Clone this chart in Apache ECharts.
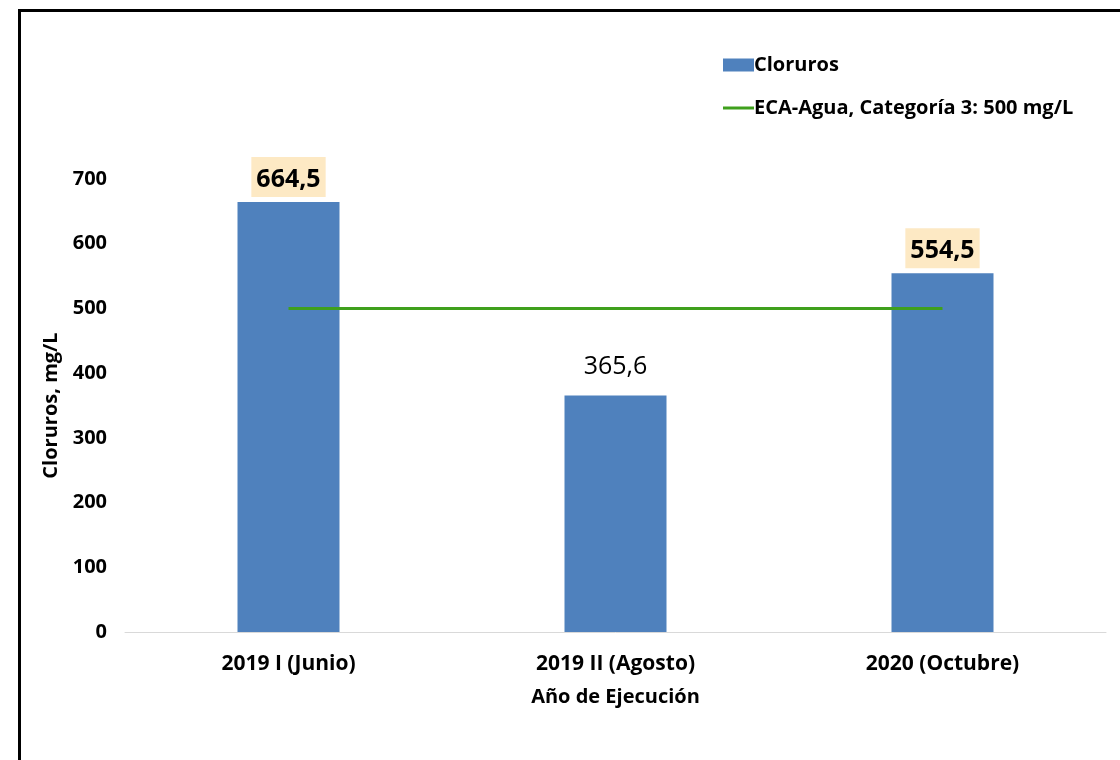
<!DOCTYPE html>
<html>
<head>
<meta charset="utf-8">
<script src="https://cdn.jsdelivr.net/npm/echarts@6/dist/echarts.min.js"></script>
<style>
html,body{margin:0;padding:0;background:#fff;}
#c{width:1120px;height:760px;}
</style>
</head>
<body>
<div id="c"></div>
<script>
const categories = ['2019 I (Junio)', '2019 II (Agosto)', '2020 (Octubre)'];
const cloruros = [664.5, 365.6, 554.5];
const limite = 500;
const limiteValues = [500, 500, 500];
const yTicks = [0, 100, 200, 300, 400, 500, 600, 700];

const FONT = '"Open Sans"';
const fmt = v => String(v).replace('.', ',');

const chart = echarts.init(document.getElementById('c'), null, {renderer: 'canvas'});

const barData = cloruros.map(v => {
  const over = v > limite;
  return {
    value: v,
    label: over ? {
      fontWeight: 'bold',
      backgroundColor: '#fde9c4',
      padding: [10, 5, 5, 5],
      distance: 5
    } : {
      fontWeight: 'normal',
      distance: 16
    }
  };
});

chart.setOption({
  animation: false,
  backgroundColor: '#fff',
  textStyle: {fontFamily: FONT},
  graphic: [{
    type: 'rect',
    shape: {x: 19.5, y: 10.5, width: 1200, height: 800},
    style: {fill: 'none', stroke: '#000', lineWidth: 3},
    silent: true,
    z: 100
  }],
  legend: {
    orient: 'vertical',
    left: 718,
    top: 50,
    itemWidth: 31,
    itemHeight: 13,
    itemGap: 23,
    textStyle: {fontFamily: FONT, fontWeight: 'bold', fontSize: 20, color: '#000', padding: [0, 0, 0, -5]},
    data: [
      {name: 'Cloruros', icon: 'rect'},
      {name: 'ECA-Agua, Categoría 3: 500 mg/L', icon: 'path://M0,0 L31,0 L31,3 L0,3 Z'}
    ]
  },
  grid: {left: 125, right: 14, top: 179, bottom: 128, containLabel: false},
  xAxis: {
    type: 'category',
    data: categories,
    name: 'Año de Ejecución',
    nameLocation: 'middle',
    nameGap: 55,
    nameTextStyle: {fontFamily: FONT, fontWeight: 'bold', fontSize: 20, color: '#000'},
    axisLine: {lineStyle: {color: '#d9d9d9', width: 1}},
    axisTick: {show: false},
    axisLabel: {fontFamily: FONT, fontWeight: 'bold', fontSize: 21, color: '#000', margin: 22}
  },
  yAxis: {
    type: 'value',
    min: yTicks[0],
    max: yTicks[yTicks.length - 1],
    interval: 100,
    name: 'Cloruros, mg/L',
    nameLocation: 'middle',
    nameGap: 63,
    nameRotate: 90,
    nameTextStyle: {fontFamily: FONT, fontWeight: 'bold', fontSize: 20, color: '#000'},
    axisLine: {show: false},
    axisTick: {show: false},
    splitLine: {show: false},
    axisLabel: {fontFamily: FONT, fontWeight: 'bold', fontSize: 20, color: '#000', margin: 18}
  },
  series: [
    {
      name: 'Cloruros',
      type: 'bar',
      data: barData,
      barWidth: 102,
      itemStyle: {color: '#4f81bd'},
      label: {
        show: true,
        position: 'top',
        fontFamily: FONT,
        fontSize: 25,
        color: '#000',
        formatter: p => fmt(p.value)
      }
    },
    {
      name: 'ECA-Agua, Categoría 3: 500 mg/L',
      type: 'line',
      data: limiteValues,
      symbol: 'none',
      lineStyle: {color: '#3fa01c', width: 3},
      itemStyle: {color: '#3fa01c'},
      z: 5
    }
  ]
});
</script>
</body>
</html>
